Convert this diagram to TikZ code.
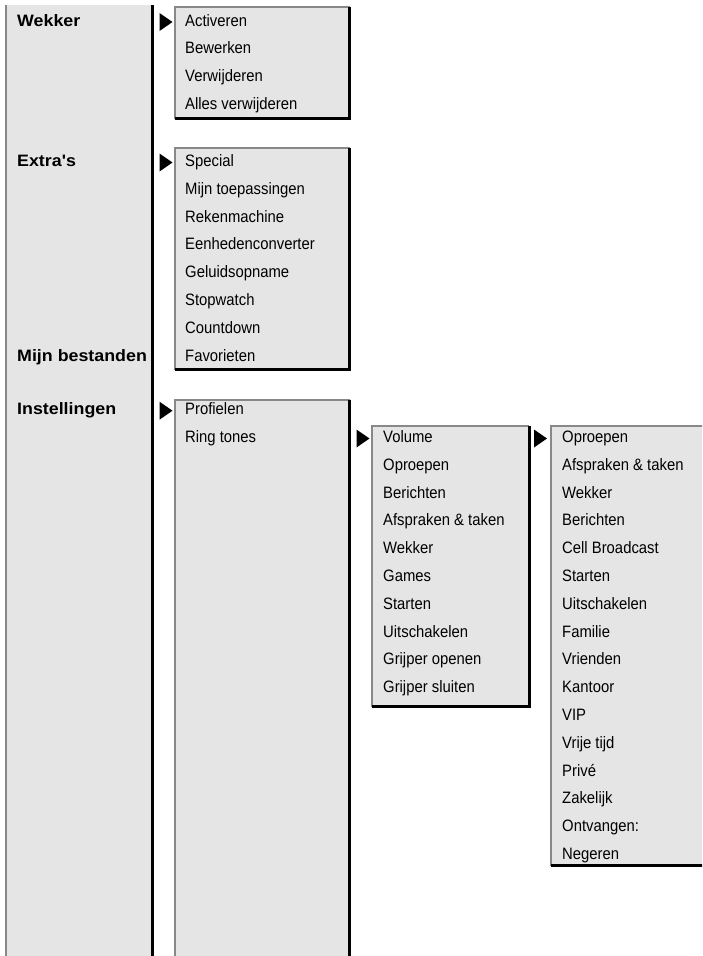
\documentclass[tikz,border=0pt]{standalone}
\usepackage{fontspec}
\setmainfont{Liberation Sans}
\newfontfamily\headfamily{Liberation Sans}[FakeStretch=1.08]
\newfontfamily\itemfamily{Liberation Sans}[FakeStretch=0.9]
\definecolor{panel}{HTML}{E5E5E5}
\definecolor{edgegray}{HTML}{888888}
\newcommand\menupanel[5]{%
  % #1 left, #2 top, #3 right, #4 bottom, #5 draw bottom (1) or not (0)
  \fill[panel] (#1,#2) rectangle (#3,#4);
  \draw[lightedge] (#1,#4) -- (#1,#2) -- (#3,#2);
  \ifnum#5=1
    \draw[darkedge] (#3,#2) -- (#3,#4) -- (#1,#4);
  \else
    \draw[darkedge] (#3,#2) -- (#3,#4);
  \fi
}
\newcommand\pointer[3]{% #1 name, #2 x, #3 baseline y
  \fill[black] (#2,{#3-13}) -- ({#2+13},{#3-4}) -- (#2,{#3+5}) -- cycle;
  \coordinate (#1) at ({#2+6},{#3-4});
}
\tikzset{
  lightedge/.style={draw=edgegray, line width=2pt},
  darkedge/.style={draw=black, line width=3pt},
  item/.style={anchor=base west, inner sep=0pt, font=\itemfamily\fontsize{16.5}{19}\selectfont},
  head/.style={anchor=base west, inner sep=0pt, font=\headfamily\bfseries\fontsize{16.5}{19}\selectfont},
}
\begin{document}
\begin{tikzpicture}[x=1pt, y=-1pt]
\useasboundingbox (0,0) rectangle (702,956);
\clip (0,0) rectangle (702,956);
% main column
\fill[panel] (6,5) rectangle (152.5,960);
\draw[lightedge] (6,5) -- (6,960);
\draw[darkedge] (152.5,5) -- (152.5,960);
% submenu boxes
\menupanel{175}{7}{349.5}{118.5}{1}
\menupanel{175}{148}{349.5}{369.5}{1}
\menupanel{175}{399.5}{349.5}{962}{0}
\menupanel{372}{426}{529}{706.5}{1}
\menupanel{551}{426}{720}{865.5}{1}
% headings
\node[head] (hw) at (17,26) {Wekker};
\node[head] (he) at (17,166.5) {Extra's};
\node[head] (hm) at (17,{166.5+7*27.8}) {Mijn bestanden};
\node[head] (hi) at (17,414.7) {Instellingen};
% pointers
\pointer{pw}{159.5}{26}
\pointer{pe}{159.5}{166.5}
\pointer{pi}{159.5}{414.7}
\pointer{pr}{356.5}{442.5}
\pointer{pv}{534}{442.5}
% items
\foreach \t [count=\i from 0] in {Activeren, Bewerken, Verwijderen, Alles verwijderen}
  \node[item] (a\i) at (185,{26+27.8*\i}) {\t};
\foreach \t [count=\i from 0] in {Special, Mijn toepassingen, Rekenmachine, Eenhedenconverter, Geluidsopname, Stopwatch, Countdown, Favorieten}
  \node[item] (b\i) at (185,{166.5+27.8*\i}) {\t};
\foreach \t [count=\i from 0] in {Profielen, Ring tones}
  \node[item] (c\i) at (185,{414.7+27.8*\i}) {\t};
\foreach \t [count=\i from 0] in {Volume, Oproepen, Berichten, Afspraken \& taken, Wekker, Games, Starten, Uitschakelen, Grijper openen, Grijper sluiten}
  \node[item] (d\i) at (383,{442.5+27.8*\i}) {\t};
\foreach \t [count=\i from 0] in {Oproepen, Afspraken \& taken, Wekker, Berichten, Cell Broadcast, Starten, Uitschakelen, Familie, Vrienden, Kantoor, VIP, Vrije tijd, Privé, Zakelijk, Ontvangen:, Negeren}
  \node[item] (e\i) at (562,{442.5+27.8*\i}) {\t};
\end{tikzpicture}
\end{document}
